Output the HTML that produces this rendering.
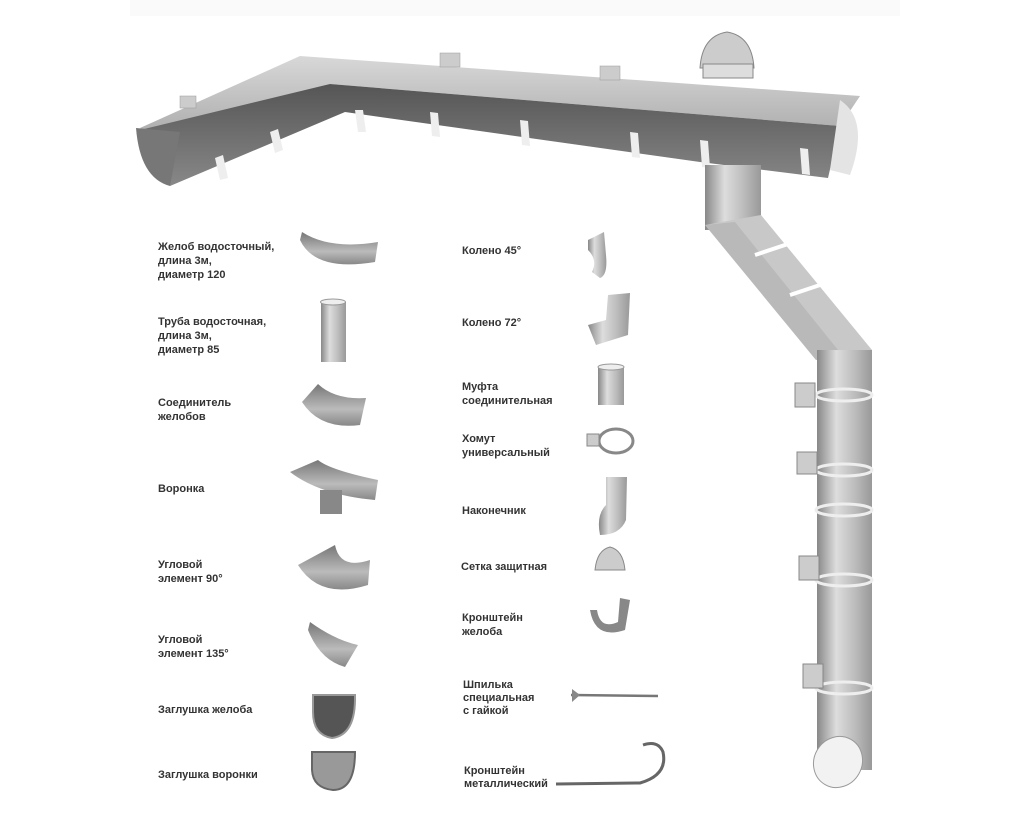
<!DOCTYPE html>
<html><head><meta charset="utf-8"><style>
html,body{margin:0;padding:0;background:#fff;}
svg{display:block}
text{font-family:"Liberation Sans",sans-serif;font-weight:bold;font-size:11px;fill:#333;}
</style></head><body>
<svg width="1024" height="838" viewBox="0 0 1024 838" xmlns="http://www.w3.org/2000/svg">
<defs>
<linearGradient id="pipeV" x1="0" x2="1" y1="0" y2="0"><stop offset="0" stop-color="#888"/><stop offset="0.35" stop-color="#ddd"/><stop offset="0.7" stop-color="#bbb"/><stop offset="1" stop-color="#999"/></linearGradient>
<linearGradient id="front" x1="0" x2="0" y1="0" y2="1"><stop offset="0" stop-color="#555"/><stop offset="1" stop-color="#888"/></linearGradient>
<linearGradient id="back" x1="0" x2="0" y1="0" y2="1"><stop offset="0" stop-color="#d8d8d8"/><stop offset="1" stop-color="#aaa"/></linearGradient>
<linearGradient id="gut" x1="0" x2="0" y1="0" y2="1"><stop offset="0" stop-color="#777"/><stop offset="0.6" stop-color="#bbb"/><stop offset="1" stop-color="#888"/></linearGradient>
</defs>
<rect x="130" y="0" width="770" height="16" fill="#fafafa"/>
<!-- main gutter -->
<polygon points="140,128 300,56 860,96 840,126 330,84 160,140" fill="url(#back)"/>
<polygon points="140,130 330,84 840,126 828,178 700,162 345,112 170,186" fill="url(#front)"/>
<path d="M136,128 Q140,178 170,186 L180,132 Z" fill="#777"/>
<path d="M840,100 Q870,120 850,175 L830,170 Z" fill="#e4e4e4"/>
<g fill="#eee">
<polygon points="215,158 223,155 228,178 220,180"/><polygon points="270,132 278,129 283,150 275,153"/>
<polygon points="355,110 363,110 366,132 358,132"/><polygon points="430,112 438,113 440,137 432,136"/>
<polygon points="520,120 528,121 530,146 522,145"/><polygon points="630,132 638,133 640,158 632,157"/>
<polygon points="700,140 708,141 710,168 702,167"/><polygon points="800,148 808,149 810,175 802,174"/>
</g>
<g fill="#ccc" stroke="#999" stroke-width="0.5">
<rect x="180" y="96" width="16" height="12"/><rect x="440" y="53" width="20" height="14"/><rect x="600" y="66" width="20" height="14"/>
</g>
<!-- grate -->
<path d="M700,68 Q702,36 727,32 Q752,36 754,68 Z" fill="#ccc" stroke="#888"/>
<rect x="703" y="64" width="50" height="14" fill="#ddd" stroke="#888"/>
<!-- downpipe -->
<rect x="705" y="165" width="56" height="65" fill="url(#pipeV)"/>
<polygon points="705,225 761,215 872,350 816,360" fill="#c8c8c8"/>
<polygon points="705,225 735,222 842,355 816,360" fill="#aaa" opacity="0.5"/>
<line x1="755" y1="255" x2="800" y2="240" stroke="#fff" stroke-width="4"/>
<line x1="790" y1="295" x2="835" y2="280" stroke="#fff" stroke-width="4"/>
<rect x="817" y="350" width="55" height="420" fill="url(#pipeV)"/>
<g fill="none" stroke="#eee" stroke-width="3"><ellipse cx="844" cy="395" rx="28" ry="6"/><ellipse cx="844" cy="470" rx="28" ry="6"/><ellipse cx="844" cy="510" rx="28" ry="6"/><ellipse cx="844" cy="580" rx="28" ry="6"/><ellipse cx="844" cy="688" rx="28" ry="6"/></g>
<g fill="#ccc" stroke="#888"><rect x="795" y="383" width="20" height="24"/><rect x="797" y="452" width="20" height="22"/><rect x="799" y="556" width="20" height="24"/><rect x="803" y="664" width="20" height="24"/></g>
<ellipse cx="838" cy="762" rx="24" ry="26" transform="rotate(30 838 762)" fill="#f2f2f2" stroke="#999"/>
<!-- left icons -->
<path d="M300,240 Q315,272 375,262 L378,242 Q330,250 302,232 Z" fill="url(#gut)"/>
<rect x="321" y="302" width="25" height="60" fill="url(#pipeV)"/><ellipse cx="333" cy="302" rx="12.5" ry="3" fill="#eee" stroke="#999"/>
<path d="M302,402 Q320,430 360,425 L366,398 Q335,400 318,384 Z" fill="url(#gut)"/>
<path d="M290,472 Q320,495 375,500 L378,480 Q330,470 318,460 Z" fill="url(#gut)"/>
<rect x="320" y="490" width="22" height="24" fill="#888"/>
<path d="M298,565 Q320,600 368,585 L370,560 Q340,570 335,545 Z" fill="url(#gut)"/>
<path d="M308,630 Q320,660 345,667 L358,645 Q335,640 310,622 Z" fill="url(#gut)"/>
<path d="M313,695 L355,695 Q356,735 332,738 Q313,735 313,712 Z" fill="#555" stroke="#999" stroke-width="2"/>
<path d="M312,752 L355,752 Q355,790 333,790 Q313,788 312,770 Z" fill="#999" stroke="#666" stroke-width="2"/>
<!-- right icons -->
<path d="M588,240 L604,232 L606,255 Q608,275 600,278 L592,272 Q598,260 588,250 Z" fill="url(#pipeV)"/>
<path d="M608,295 L630,293 L628,335 L596,345 L588,325 L606,320 Z" fill="url(#pipeV)"/>
<rect x="598" y="367" width="26" height="38" fill="url(#pipeV)"/><ellipse cx="611" cy="367" rx="13" ry="3" fill="#eee" stroke="#999"/>
<ellipse cx="616" cy="441" rx="17" ry="12" fill="none" stroke="#888" stroke-width="3"/><rect x="587" y="434" width="12" height="12" fill="#ccc" stroke="#888"/>
<path d="M606,477 L627,477 L626,520 Q620,535 600,535 Q596,515 606,505 Z" fill="url(#pipeV)"/>
<path d="M595,570 Q597,550 610,547 Q623,550 625,570 Z" fill="#ccc" stroke="#888"/>
<path d="M590,610 Q595,640 625,630 L630,600 L620,598 L618,622 Q600,630 597,610 Z" fill="#888"/>
<line x1="571" y1="695" x2="658" y2="696" stroke="#777" stroke-width="2.5"/><polygon points="572,689 580,695 572,702" fill="#888"/>
<path d="M556,784 L640,783 Q668,775 663,752 Q658,740 643,745" fill="none" stroke="#666" stroke-width="3"/>
<!-- labels left -->
<text x="158" y="250">Желоб водосточный,</text><text x="158" y="264">длина 3м,</text><text x="158" y="278">диаметр 120</text>
<text x="158" y="325">Труба водосточная,</text><text x="158" y="339">длина 3м,</text><text x="158" y="353">диаметр 85</text>
<text x="158" y="406">Соединитель</text><text x="158" y="420">желобов</text>
<text x="158" y="492">Воронка</text>
<text x="158" y="568">Угловой</text><text x="158" y="582">элемент 90°</text>
<text x="158" y="643">Угловой</text><text x="158" y="657">элемент 135°</text>
<text x="158" y="713">Заглушка желоба</text>
<text x="158" y="778">Заглушка воронки</text>
<!-- labels right -->
<text x="462" y="254">Колено 45°</text>
<text x="462" y="326">Колено 72°</text>
<text x="462" y="390">Муфта</text><text x="462" y="404">соединительная</text>
<text x="462" y="442">Хомут</text><text x="462" y="456">универсальный</text>
<text x="462" y="514">Наконечник</text>
<text x="461" y="570">Сетка защитная</text>
<text x="462" y="621">Кронштейн</text><text x="462" y="635">желоба</text>
<text x="463" y="688">Шпилька</text><text x="463" y="701">специальная</text><text x="463" y="714">с гайкой</text>
<text x="464" y="774">Кронштейн</text><text x="464" y="787">металлический</text>
</svg>
</body></html>
